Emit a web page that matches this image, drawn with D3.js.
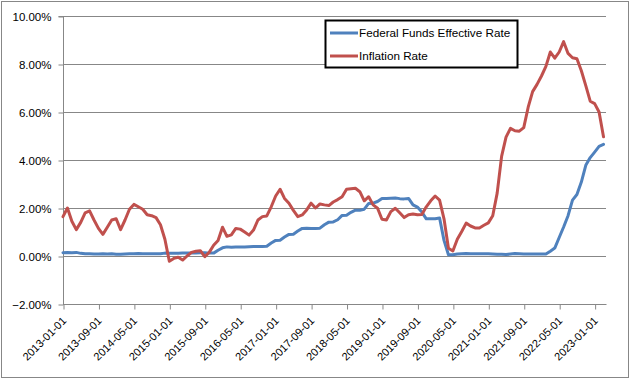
<!DOCTYPE html>
<html><head><meta charset="utf-8">
<script src="https://cdn.jsdelivr.net/npm/d3@7"></script>
<style>body{margin:0;background:#fff}svg{display:block}text{font-family:"Liberation Sans",Arial,sans-serif;fill:#000}</style>
</head><body><svg id="c" width="631" height="380"></svg>
<script>
const startYear = 2013, nMonths = 123;
const fedFunds = [
0.14,0.15,0.14,0.15,0.11,0.09,0.09,0.08,0.08,0.09,0.08,0.09,
0.07,0.07,0.08,0.09,0.09,0.10,0.09,0.09,0.09,0.09,0.09,0.12,
0.11,0.11,0.11,0.12,0.12,0.13,0.13,0.14,0.14,0.12,0.12,0.24,
0.34,0.38,0.36,0.37,0.37,0.38,0.39,0.40,0.40,0.40,0.41,0.54,
0.65,0.66,0.79,0.90,0.91,1.04,1.15,1.16,1.15,1.15,1.16,1.30,
1.41,1.42,1.51,1.69,1.70,1.82,1.91,1.91,1.95,2.19,2.20,2.27,
2.40,2.40,2.41,2.42,2.39,2.38,2.40,2.13,2.04,1.83,1.55,1.55,
1.55,1.58,0.65,0.05,0.05,0.08,0.09,0.10,0.09,0.09,0.09,0.09,
0.09,0.08,0.07,0.07,0.06,0.08,0.10,0.09,0.08,0.08,0.08,0.08,
0.08,0.08,0.20,0.33,0.77,1.21,1.68,2.33,2.56,3.08,3.78,4.10,
4.33,4.57,4.65];
const inflation = [
1.64,2.00,1.45,1.10,1.40,1.80,1.88,1.50,1.15,0.90,1.20,1.50,
1.55,1.10,1.50,1.95,2.15,2.05,1.95,1.72,1.68,1.60,1.30,0.70,
-0.22,-0.10,-0.05,-0.17,0.00,0.15,0.20,0.22,-0.03,0.15,0.45,0.65,
1.20,0.82,0.88,1.15,1.12,1.00,0.87,1.08,1.50,1.64,1.67,2.05,
2.50,2.78,2.40,2.20,1.90,1.64,1.71,1.92,2.20,2.00,2.17,2.13,
2.10,2.25,2.35,2.47,2.78,2.80,2.82,2.68,2.30,2.47,2.13,1.99,
1.53,1.50,1.85,1.99,1.80,1.60,1.72,1.75,1.72,1.73,2.05,2.30,
2.50,2.33,1.55,0.32,0.21,0.70,1.02,1.37,1.25,1.17,1.17,1.28,
1.38,1.68,2.62,4.15,4.95,5.32,5.22,5.20,5.35,6.20,6.85,7.15,
7.50,7.90,8.50,8.24,8.50,8.93,8.44,8.26,8.22,7.72,7.10,6.45,
6.35,6.00,4.97];
const seriesNames = ["Federal Funds Effective Rate","Inflation Rate"];
const yTicks = [-2,0,2,4,6,8,10];
const labelEvery = 8;

const dates = d3.range(nMonths).map(i => {
  const y = startYear + Math.floor(i/12), m = i%12 + 1;
  return `${y}-${String(m).padStart(2,"0")}-01`;
});

const svg = d3.select("#c");
const L=63, R=606, T=16, B=304;
const gray="#878787";
svg.append("rect").attr("x",1.5).attr("y",1.5).attr("width",627).attr("height",376)
  .attr("fill","#fff").attr("stroke",gray).attr("stroke-width",1);

const x = d3.scaleLinear().domain([0,nMonths-1]).range([L, 603.5]);
const y = d3.scaleLinear().domain([-2,10]).range([B,T]);

// gridlines
svg.append("g").selectAll("line").data(yTicks).join("line")
  .attr("x1",L).attr("x2",R).attr("y1",d=>Math.round(y(d))+0.5).attr("y2",d=>Math.round(y(d))+0.5)
  .attr("stroke",gray).attr("stroke-width",1);

// y axis
const yAxis = d3.axisLeft(y).tickValues(yTicks).tickSize(5).tickPadding(4)
  .tickFormat(d=>d3.format(".2f")(d)+"%");
const gy = svg.append("g").attr("transform",`translate(${L+0.5},0.5)`).call(yAxis);
gy.select(".domain").attr("stroke",gray).attr("d",`M-5,${T}H0V${B}`);
gy.selectAll(".tick line").attr("stroke",gray);
gy.selectAll("text").attr("font-size","11.5px").attr("font-family",'"Liberation Sans",Arial,sans-serif').attr("dx","-3");

// x axis
const xAxis = d3.axisBottom(x).tickValues(d3.range(0,nMonths,labelEvery)).tickSize(5)
  .tickFormat(i=>dates[i]);
const gx = svg.append("g").attr("transform",`translate(0.5,${B+0.5})`).call(xAxis);
gx.select(".domain").attr("stroke",gray).attr("d",`M${L},0H${R}`);
gx.selectAll(".tick line").attr("stroke",gray);
gx.selectAll("text").attr("font-size","11px").attr("font-family",'"Liberation Sans",Arial,sans-serif')
  .attr("text-anchor","end").attr("dy",null).attr("y",null)
  .attr("transform","translate(3,17) rotate(-45)");

// lines
const line = d3.line().x((d,i)=>x(i)).y(d=>y(d)).curve(d3.curveLinear);
const colors = ["#4F81BD","#C0504D"];
[fedFunds, inflation].forEach((s,k)=>{
  svg.append("path").datum(s).attr("d",line).attr("fill","none")
    .attr("stroke",colors[k]).attr("stroke-width",3).attr("stroke-linejoin","round").attr("stroke-linecap","round");
});

// legend
const lg = svg.append("g");
lg.append("rect").attr("x",325.5).attr("y",20.5).attr("width",192).attr("height",47)
  .attr("fill","#fff").attr("stroke","#000").attr("stroke-width",2);
seriesNames.forEach((n,k)=>{
  const yy = 33 + k*23;
  lg.append("line").attr("x1",330).attr("x2",358).attr("y1",yy).attr("y2",yy)
    .attr("stroke",colors[k]).attr("stroke-width",3);
  lg.append("text").attr("x",359).attr("y",yy+4).attr("font-size","11.7px").text(n);
});
</script></body></html>
